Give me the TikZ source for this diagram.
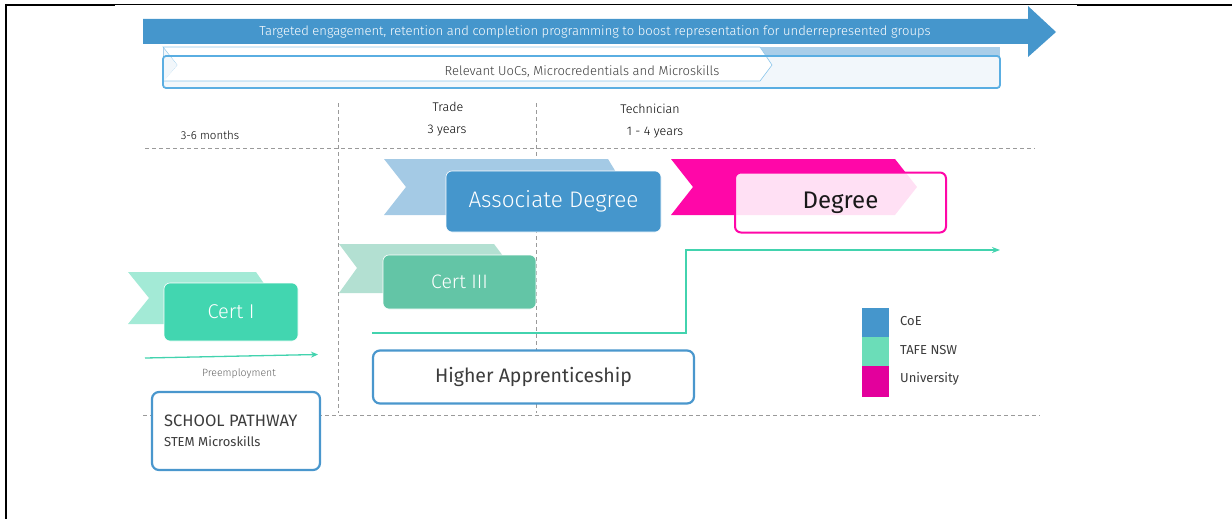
\documentclass[tikz,border=0pt]{standalone}
\usepackage{fontspec}
\usetikzlibrary{arrows.meta}
\setmainfont{Fira Sans}
\newfontfamily\condf{Fira Sans Light}
\definecolor{coe}{HTML}{4596CC}
\definecolor{coelight}{HTML}{A4CAE5}
\definecolor{bandlight}{HTML}{A9CEE9}
\definecolor{bandborder}{HTML}{5AAEE2}
\definecolor{bandfill}{HTML}{F2F7FB}
\definecolor{certthree}{HTML}{63C5A6}
\definecolor{certthreelight}{HTML}{B3E0D2}
\definecolor{certone}{HTML}{42D6B0}
\definecolor{certonelight}{HTML}{A3EAD6}
\definecolor{uni}{HTML}{FF07A8}
\definecolor{unileg}{HTML}{E3009C}
\definecolor{tafeleg}{HTML}{6BDDB8}
\definecolor{boxblue}{HTML}{4A97CD}
\definecolor{txtgray}{HTML}{3C3C3C}
\definecolor{greenline}{HTML}{42D3AE}
\definecolor{dashgray}{HTML}{9A9A9A}
\tikzset{
  guide/.style={draw=dashgray, line width=0.7pt, dash pattern=on 4pt off 3pt},
  filledbox/.style={rounded corners=6pt, draw=white, line width=0.6pt, text=white, inner sep=0pt},
  outlinebox/.style={rounded corners=7pt, draw=boxblue, line width=2.2pt, fill=white, text=txtgray, inner sep=0pt},
  smalltxt/.style={text=black, font=\condf\fontsize{12.5}{14}\selectfont, inner sep=0pt},
  legtxt/.style={text=txtgray, font=\fontsize{13}{15}\selectfont, anchor=west, inner sep=0pt},
  legsq/.style={minimum width=27pt, inner sep=0pt, draw=none},
}
\begin{document}
\begin{tikzpicture}[x=1pt,y=-1pt]
\useasboundingbox (0,0) rectangle (1232,519);
% frame
\draw[line width=2pt] (5,5) -- (115,5);
\draw[line width=0.9pt] (115,4.5) -- (1077,4.5);
\draw[line width=2pt] (1077,5) -- (1232,5);
\draw[line width=2pt] (6,4) -- (6,519);
% big arrow
\fill[coe] (143,19) -- (1028,19) -- (1028,6) -- (1056,32) -- (1028,57) -- (1028,44) -- (143,44) -- cycle;
\node[text=white, font=\condf\fontsize{13}{14}\selectfont, inner sep=0pt] (topband) at (595,32) {Targeted engagement, retention and completion programming to boost representation for underrepresented groups};
% second band
\fill[bandlight] (163,47.5) rectangle (1000,58);
\fill[bandfill, rounded corners=3pt] (163,56) rectangle (1000,88);
\filldraw[fill=white, draw=bandborder!70, line width=0.6pt] (163,47) -- (760,47) -- (772,65) -- (760,81) -- (163,81) -- (177,65) -- cycle;
\fill[bandfill] (164,49) -- (177,65) -- (164,81) -- cycle;
\draw[bandborder, line width=1.8pt, rounded corners=3pt] (163,56) rectangle (1000,88);
\node[text=txtgray, font=\condf\fontsize{13}{14}\selectfont, inner sep=0pt] (uocs) at (582,71.5) {Relevant UoCs, Microcredentials and Microskills};
% guides
\draw[guide] (145,148) -- (1035,148);
\draw[guide] (338,103) -- (338,413);
\draw[guide] (536,103) -- (536,413);
\draw[guide] (143,415.5) -- (1040,415.5);
% headings
\node[smalltxt] (trade) at (448,107) {Trade};
\node[smalltxt] (tradeyrs) at (447,131) {3 years};
\node[smalltxt] (tech) at (650,109) {Technician};
\node[smalltxt] (techyrs) at (655,133) {1 - 4 years};
\node[smalltxt, font=\condf\fontsize{11.5}{13}\selectfont] (months) at (210,135) {3-6 months};
% associate degree
\fill[coelight] (384,159) -- (608,159) -- (625,187) -- (608,215) -- (384,215) -- (406,187) -- cycle;
\node[filledbox, fill=coe, minimum width=215pt, minimum height=61pt, font=\condf\fontsize{22.5}{25}\selectfont] (assoc) at (553.5,201.5) {Associate Degree};
% degree
\fill[uni] (671,159) -- (895,159) -- (917,187) -- (895,215) -- (671,215) -- (693,187) -- cycle;
\node[rounded corners=6pt, draw=uni, line width=2pt, fill=white, fill opacity=0.88, text opacity=1, text=black!90, minimum width=211pt, minimum height=60pt, inner sep=0pt, font=\fontsize{24}{27}\selectfont] (degree) at (840.5,202.5) {Degree};
% cert III
\fill[certthreelight] (339,244) -- (494,244) -- (512,268) -- (494,293) -- (339,293) -- (357,268) -- cycle;
\node[filledbox, fill=certthree, minimum width=153pt, minimum height=54pt, font=\condf\fontsize{19.5}{22}\selectfont] (certiii) at (459.5,282) {Cert III};
% cert I
\fill[certonelight] (128,272) -- (256,272) -- (274,298) -- (256,324) -- (128,324) -- (149,298) -- cycle;
\node[filledbox, fill=certone, minimum width=134pt, minimum height=58pt, font=\condf\fontsize{20}{22}\selectfont] (certi) at (231,312) {Cert I};
% preemployment arrow
\coordinate (preA) at (145,358);
\coordinate (preB) at (318,354.5);
\draw[greenline, line width=1.3pt, -{Stealth[length=7pt,width=6pt]}] (preA) -- (preB);
\node[text=txtgray!80, font=\condf\fontsize{10.5}{12}\selectfont, inner sep=0pt] (preemp) at (239,374) {Preemployment};
% green pathway line
\coordinate (gA) at (372,333);
\coordinate (gB) at (686,333);
\coordinate (gC) at (686,250);
\coordinate (gD) at (1000,250);
\draw[greenline, line width=1.3pt, -{Stealth[length=8pt,width=6pt]}] (gA) -- (gB) -- (gC) -- (gD);
% higher apprenticeship
\node[outlinebox, minimum width=321pt, minimum height=53pt, font=\fontsize{19.5}{23}\selectfont] (higher) at (533.5,377) {Higher Apprenticeship};
% school pathway
\node[outlinebox, minimum width=168pt, minimum height=78pt] (school) at (236,431) {};
\node[anchor=west, text=txtgray, font=\fontsize{16.5}{19}\selectfont, inner sep=0pt] (schooltitle) at (164,421) {SCHOOL PATHWAY};
\node[anchor=west, text=txtgray, font=\fontsize{13}{15}\selectfont, inner sep=0pt] (schoolsub) at (164,442) {STEM Microskills};
% legend
\node[legsq, fill=coe, minimum height=29pt] (legcoe) at (875.5,322.5) {};
\node[legsq, fill=tafeleg, minimum height=29pt] (legtafe) at (875.5,351.5) {};
\node[legsq, fill=unileg, minimum height=31pt] (leguni) at (875.5,381.5) {};
\node[legtxt] (lcoe) at (900,321.5) {CoE};
\node[legtxt] (ltafe) at (900,350) {TAFE NSW};
\node[legtxt] (luni) at (900,378.5) {University};
\end{tikzpicture}
\end{document}
